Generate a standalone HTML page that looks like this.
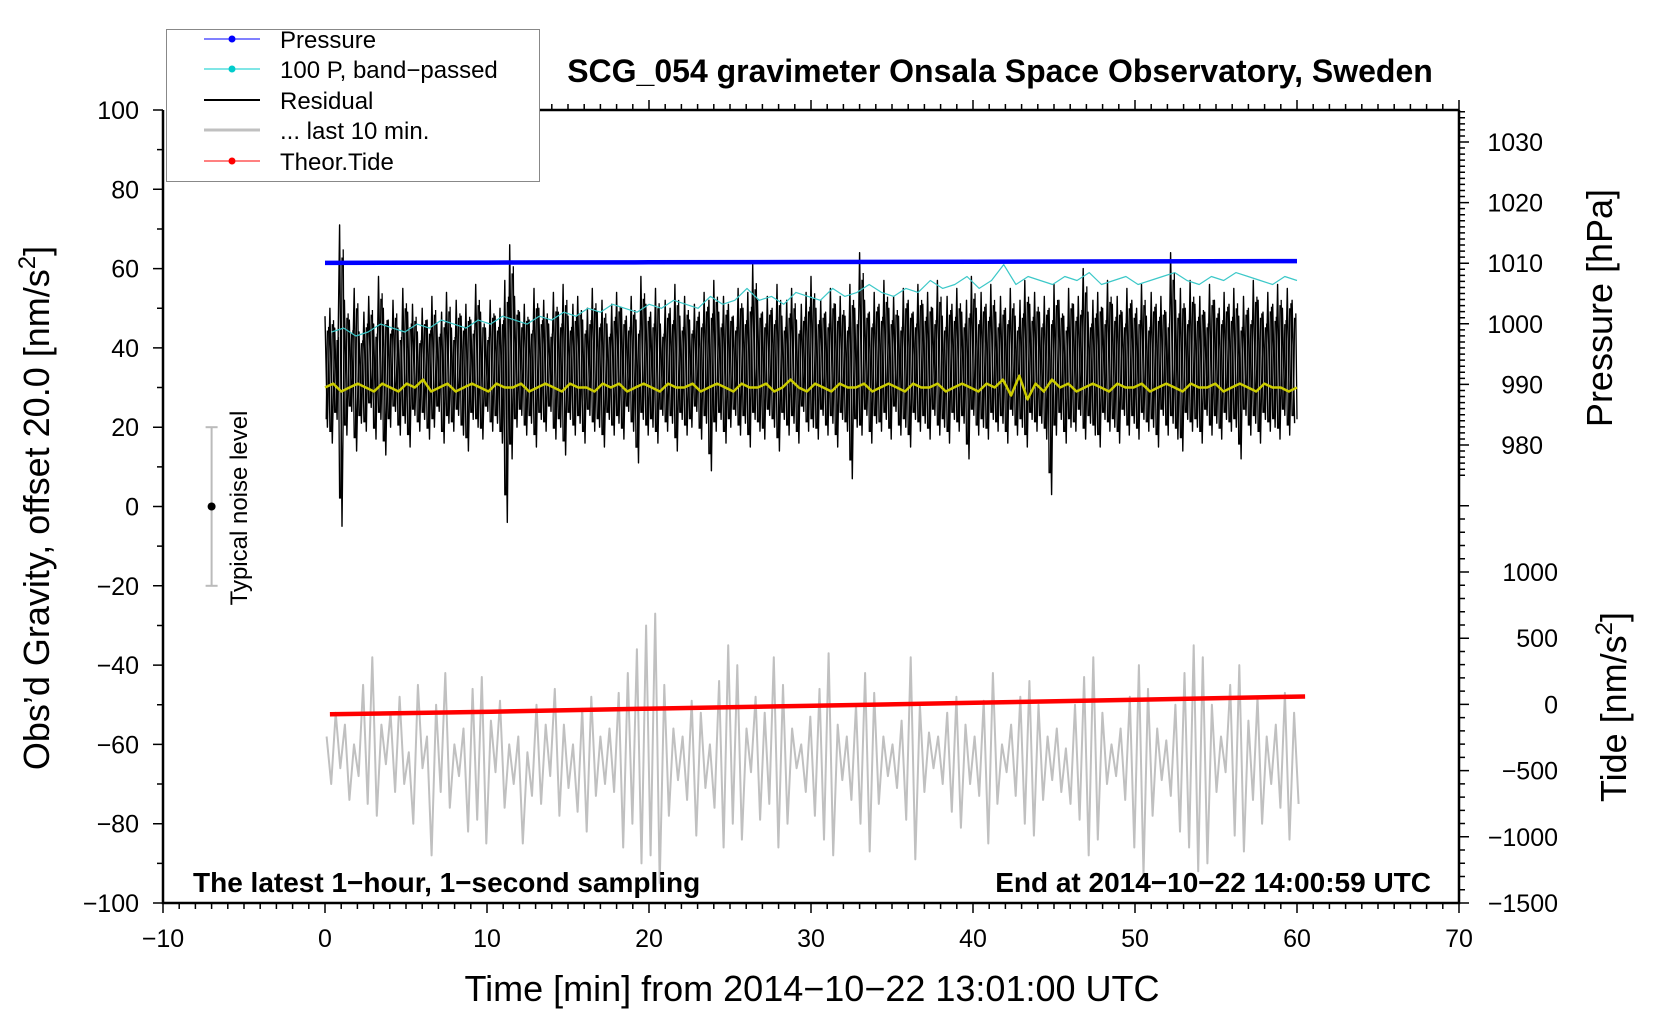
<!DOCTYPE html>
<html><head><meta charset="utf-8">
<style>
html,body{margin:0;padding:0;background:#fff;}
svg{display:block;font-family:"Liberation Sans",sans-serif;}
</style></head>
<body>
<svg id="chart" width="1660" height="1020" viewBox="0 0 1660 1020" xmlns="http://www.w3.org/2000/svg">
<rect width="1660" height="1020" fill="#fff"/>
<g id="marks"></g>
<g id="axes"></g>
<text x="1000" y="82" font-size="32" font-weight="bold" text-anchor="middle">SCG_054 gravimeter Onsala Space Observatory, Sweden</text>
<text x="193" y="892" font-size="28" font-weight="bold">The latest 1−hour, 1−second sampling</text>
<text x="1431" y="892" font-size="28" font-weight="bold" text-anchor="end">End at 2014−10−22 14:00:59 UTC</text>
<text transform="translate(49,508) rotate(-90)" font-size="36" text-anchor="middle">Obs’d Gravity, offset 20.0 [nm/s<tspan font-size="24" dy="-14">2</tspan><tspan dy="14">]</tspan></text>
<text x="812" y="1001" font-size="36" text-anchor="middle">Time [min] from 2014−10−22 13:01:00 UTC</text>
<text transform="translate(1612,308) rotate(-90)" font-size="36" text-anchor="middle">Pressure [hPa]</text>
<text transform="translate(1626,707) rotate(-90)" font-size="36" text-anchor="middle">Tide [nm/s<tspan font-size="24" dy="-14">2</tspan><tspan dy="14">]</tspan></text>
<text transform="translate(247,508) rotate(-90)" font-size="24" text-anchor="middle">Typical noise level</text>
<g>
<rect x="166.5" y="29.5" width="373" height="152" fill="#fff" stroke="#888" stroke-width="1"/>
<g><line x1="204" y1="39" x2="260" y2="39" stroke="#0000ff" stroke-width="1"/><circle cx="232" cy="39" r="3.5" fill="#0000ff"/><text x="280" y="48" font-size="24">Pressure</text></g>
<g><line x1="204" y1="69" x2="260" y2="69" stroke="#00cccc" stroke-width="1"/><circle cx="232" cy="69" r="3.5" fill="#00cccc"/><text x="280" y="78" font-size="24">100 P, band−passed</text></g>
<g><line x1="204" y1="100" x2="260" y2="100" stroke="#000" stroke-width="2"/><text x="280" y="109" font-size="24">Residual</text></g>
<g><line x1="204" y1="130" x2="260" y2="130" stroke="#c0c0c0" stroke-width="3"/><text x="280" y="139" font-size="24">... last 10 min.</text></g>
<g><line x1="204" y1="161" x2="260" y2="161" stroke="#ff0000" stroke-width="1"/><circle cx="232" cy="161" r="3.5" fill="#ff0000"/><text x="280" y="170" font-size="24">Theor.Tide</text></g>
</g>
</svg>
<script>
const xTicks=[-10,0,10,20,30,40,50,60,70];
const yTicks=[-100,-80,-60,-40,-20,0,20,40,60,80,100];
const pTicks=[980,990,1000,1010,1020,1030];
const tTicks=[-1500,-1000,-500,0,500,1000];
const resHi=[48,50,45,71,52,47,55,44,49,53,46,58,50,47,52,45,55,49,51,44,
50,47,53,46,49,54,45,52,48,51,47,56,49,45,52,48,50,57,66,53,
49,51,47,55,50,52,46,54,49,56,48,51,53,47,50,55,49,52,46,51,
54,50,48,53,47,58,51,49,55,46,52,50,56,48,53,47,51,49,54,52,
57,49,53,51,48,55,50,54,61,52,49,53,50,56,48,52,55,47,51,54,
58,50,52,49,55,51,53,48,56,50,64,52,49,54,51,57,50,53,48,55,
52,49,56,51,54,50,57,48,53,51,55,49,52,58,50,54,51,56,49,53,
50,55,48,52,57,51,54,49,53,50,56,52,48,55,51,53,60,49,52,54,
50,57,51,53,49,55,52,50,56,48,54,51,53,49,64,52,55,50,57,51,
53,49,56,52,50,54,51,55,48,53,50,57,52,49,54,51,56,50,55,52];
const resLo=[20,16,22,-5,18,24,14,21,19,25,17,22,13,20,24,18,21,15,23,19,
22,17,20,24,16,21,19,23,18,14,22,20,17,24,19,21,16,-4,12,20,
23,18,21,15,22,19,24,17,20,13,22,18,21,16,23,19,20,15,22,18,
21,17,24,19,11,22,18,20,16,23,19,21,14,22,18,20,24,17,21,9,
19,22,16,20,23,18,21,15,22,19,17,23,20,14,22,18,21,16,24,19,
20,17,23,18,21,15,22,19,7,20,18,23,16,21,19,22,17,24,18,20,
15,22,19,21,17,23,18,20,16,22,19,21,12,23,18,20,17,22,19,21,
16,23,18,20,15,22,19,21,17,3,18,22,16,20,19,23,17,21,18,15,
22,19,20,16,23,18,21,17,22,19,20,15,23,18,21,17,14,22,19,20,
16,23,18,21,17,22,19,20,12,23,18,21,16,22,19,20,17,23,18,21];
const bandPassed=[44,45,43,44,46,45,44,46,45,47,46,45,47,46,48,47,46,48,47,49,48,50,49,51,50,49,51,50,52,51,
50,53,51,52,55,52,53,51,54,53,52,55,53,54,56,54,53,55,54,57,55,56,58,55,57,61,56,58,57,56,
58,57,59,56,57,58,56,57,58,59,57,56,58,57,59,58,57,56,58,57];
const smoothed=[30,31,29,30,31,30,29,31,30,29,31,30,32,29,30,31,29,30,31,30,
29,31,30,30,31,29,30,31,30,29,31,30,30,29,31,30,31,29,30,31,
30,29,31,30,30,31,29,30,31,30,29,31,30,30,31,29,30,32,30,29,
31,30,29,31,30,30,31,29,30,31,30,29,31,30,30,31,29,30,31,30,
29,31,30,32,28,33,27,31,29,32,30,31,29,30,31,30,29,31,30,30,
31,29,30,31,30,29,31,30,30,31,29,30,31,30,29,31,30,30,29,30];
const lastTen=[-58,-70,-52,-66,-55,-74,-60,-68,-45,-75,-38,-78,-55,-65,-52,-72,-48,-70,-62,-80,-45,-66,-58,-88,-50,-72,-42,-76,-60,-68,-56,-82,-46,-79,-43,-85,-54,-67,-49,-76,-60,-70,-58,-85,-62,-73,-50,-75,-55,-68,-46,-78,-55,-71,-60,-77,-51,-82,-48,-73,-58,-70,-56,-72,-47,-86,-42,-80,-36,-90,-30,-88,-27,-95,-45,-78,-56,-69,-58,-74,-49,-83,-52,-71,-60,-76,-44,-86,-35,-80,-40,-84,-56,-67,-48,-79,-52,-75,-38,-86,-45,-80,-56,-66,-60,-72,-53,-78,-46,-84,-37,-88,-55,-69,-58,-74,-50,-80,-42,-87,-47,-75,-58,-68,-60,-71,-54,-79,-38,-89,-50,-72,-57,-66,-58,-70,-52,-77,-48,-81,-55,-70,-58,-73,-49,-85,-42,-75,-60,-67,-55,-73,-48,-80,-44,-83,-50,-74,-58,-69,-56,-72,-61,-75,-50,-79,-43,-88,-38,-84,-52,-70,-60,-68,-56,-74,-48,-86,-40,-93,-46,-78,-56,-69,-59,-73,-50,-82,-42,-86,-35,-92,-38,-90,-50,-72,-58,-67,-45,-83,-40,-87,-54,-74,-48,-80,-58,-70,-55,-76,-47,-84,-52,-75];
const pressureTimes=[0,10,20,30,40,50,60];
const pressureVals=[1010.05,1010.1,1010.15,1010.2,1010.25,1010.3,1010.35];
const tideTimes=[0,10,20,30,40,50,60.5];
const tideVals=[-75,-55,-32,-10,12,35,60];

const X0=163,X1=1459,Y0=903,Y1=110;
const sx=v=>X0+(v+10)*(X1-X0)/80;
const sy=v=>Y0-(v+100)*(Y0-Y1)/200;
const sp=v=>142+(1030-v)*6.06;
const st=v=>572+(1000-v)*0.1324;
const NS='http://www.w3.org/2000/svg';
const marks=document.getElementById('marks'),axes=document.getElementById('axes');
function mk(tag,attrs,parent){const e=document.createElementNS(NS,tag);for(const k in attrs)e.setAttribute(k,attrs[k]);parent.appendChild(e);return e;}
function poly(pts,stroke,w,name){const e=mk('polyline',{points:pts.map(p=>p[0].toFixed(1)+','+p[1].toFixed(1)).join(' '),fill:'none',stroke:stroke,'stroke-width':w,'stroke-linejoin':'round'},marks);

return e;}

poly(lastTen.map((v,i)=>[sx(0.1+i*60/(lastTen.length-1)),sy(v)]),'#c0c0c0',2,'last-ten-min-line');
// residual: zigzag plus vertical spans for density
let rp=[];const step=60/resHi.length;
resHi.forEach((h,i)=>{rp.push([sx(i*step),sy(h)]);rp.push([sx(i*step+step/2),sy(resLo[i])]);});
poly(rp,'#000',1.4,'residual-line');
let vd='';
resHi.forEach((h,i)=>{const lo=resLo[(i+1)%resLo.length];vd+=`M${sx(i*step+step*0.75).toFixed(1)},${sy(h*0.85+30*0.15).toFixed(1)}L${sx(i*step+step).toFixed(1)},${sy(lo*0.8+30*0.2).toFixed(1)}`;vd+=`M${sx(i*step+step*0.25).toFixed(1)},${sy(resLo[i]*0.8+6).toFixed(1)}L${sx(i*step+step*0.5).toFixed(1)},${sy(h*0.8+6).toFixed(1)}`;});
const rv=mk('path',{d:vd,stroke:'#000','stroke-width':1.3,fill:'none'},marks);


poly(bandPassed.map((v,i)=>[sx(0.4+i*59.6/(bandPassed.length-1)),sy(v)]),'#3cc8c8',1.2,'bandpassed-pressure-line');
poly(smoothed.map((v,i)=>[sx(i*60/(smoothed.length-1)),sy(v)]),'#cccc00',2.5,'smoothed-residual-line');
poly(pressureVals.map((v,i)=>[sx(pressureTimes[i]),sp(v)]),'#0000ff',4.5,'pressure-line');
poly(tideVals.map((v,i)=>[sx(0.3+tideTimes[i]*(60.2/60.5)),st(v)]),'#ff0000',4.5,'theoretical-tide-line');
const nb=mk('g',{},marks);


mk('line',{x1:sx(-7),x2:sx(-7),y1:sy(-20),y2:sy(20),stroke:'#bbb','stroke-width':2},nb);
mk('line',{x1:sx(-7)-6,x2:sx(-7)+6,y1:sy(20),y2:sy(20),stroke:'#bbb','stroke-width':2},nb);
mk('line',{x1:sx(-7)-6,x2:sx(-7)+6,y1:sy(-20),y2:sy(-20),stroke:'#bbb','stroke-width':2},nb);
mk('circle',{cx:sx(-7),cy:sy(0),r:4,fill:'#000'},nb);

const fr=mk('path',{d:`M${X0},${Y1}V${Y0}H${X1}V${Y1}`,fill:'none',stroke:'#000','stroke-width':2.5},axes);


mk('line',{x1:539,x2:X1,y1:Y1,y2:Y1,stroke:'#000','stroke-width':2.5},axes);
let tk='';
for(let v=-10;v<=70;v++){const x=sx(v),L=(v%10===0)?10:6;tk+=`M${x},${Y0}v${L}`;if(sx(v)>539)tk+=`M${x},${Y1}v${-L}`;}
for(let v=-100;v<=100;v+=10){const L=(v%20===0)?10:6;tk+=`M${X0},${sy(v)}h${-L}`;}
for(let v=975;v<=1035;v++){const L=(v%10===0)?10:6;tk+=`M${X1},${sp(v)}h${L}`;}
for(let v=-1500;v<=1500;v+=100){const L=(v%500===0)?10:6;tk+=`M${X1},${st(v)}h${L}`;}
const tkp=mk('path',{d:tk,stroke:'#000','stroke-width':1.5,fill:'none'},axes);


function lab(x,y,s,anchor,name){const t=mk('text',{x:x,y:y,'font-size':25,'text-anchor':anchor},axes);t.textContent=s;

}
const fmt=v=>String(v).replace('-','−');
xTicks.forEach(v=>lab(sx(v),947,fmt(v),'middle','x-tick-label'));
yTicks.forEach(v=>lab(139,sy(v)+9,fmt(v),'end','y-tick-label'));
pTicks.forEach(v=>lab(1543,sp(v)+9,fmt(v),'end','pressure-tick-label'));
tTicks.forEach(v=>lab(1558,st(v)+9,fmt(v),'end','tide-tick-label'));
</script>
</body></html>
